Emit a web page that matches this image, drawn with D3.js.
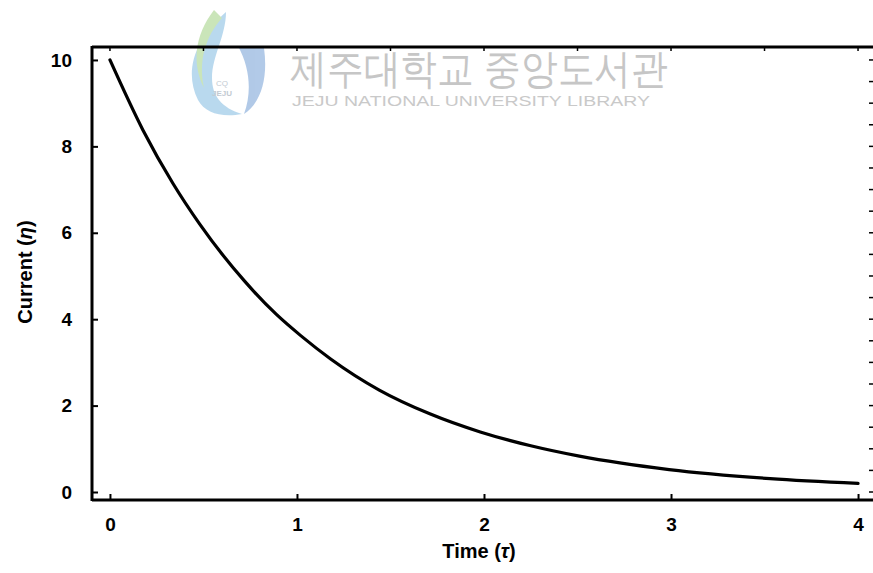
<!DOCTYPE html>
<html>
<head>
<meta charset="utf-8">
<script src="https://cdn.jsdelivr.net/npm/d3@7/dist/d3.min.js"></script>
<style>
  html, body { margin: 0; padding: 0; background: #fff; }
  svg { display: block; }
  text { font-family: "Liberation Sans", Arial, sans-serif; }
</style>
</head>
<body>
<svg id="chart" width="873" height="573"></svg>
<script>
// Current decay measured against time
const timeValues = [0, 0.176, 0.337, 0.48, 0.72, 0.89, 1.02, 1.18, 1.44, 1.71, 1.98, 2.25, 2.51, 2.99, 3.53, 4.0];
const currentValues = [10.0, 8.38, 7.14, 6.2, 4.88, 4.11, 3.62, 3.08, 2.36, 1.81, 1.39, 1.07, 0.83, 0.52, 0.31, 0.2];
const xTicks = [0, 1, 2, 3, 4];
const yTicks = [0, 2, 4, 6, 8, 10];
const xTitle = ["Time (", "τ", ")"];
const yTitle = ["Current (", "η", ")"];
const markKo = "제주대학교 중앙도서관";
const markEn = "JEJU NATIONAL UNIVERSITY  LIBRARY";

const svg = d3.select("#chart");
const x = d3.scaleLinear().domain([-0.096, 4.08]).range([92, 873]);
const y = d3.scaleLinear().domain([-0.185, 10.3]).range([500, 47]);

// library mark in the background
const mark = svg.append("g").attr("opacity", 0.6);
mark.append("path")
  .attr("d", "M226,12 C194,40 184,72 198,100 C205,113 222,118 242,114 C222,108 212,96 212,78 C212,56 226,36 226,12 Z")
  .attr("fill", "#8cc0e4");
mark.append("path")
  .attr("d", "M214,10 C194,36 192,64 204,88 C198,60 206,36 222,18 Z")
  .attr("fill", "#a8d48c");
mark.append("path")
  .attr("d", "M238,46 L264,48 C268,76 262,102 244,114 C252,92 250,68 238,46 Z")
  .attr("fill", "#7ea6d8");
mark.append("text").attr("x", 222).attr("y", 96).attr("text-anchor", "middle")
  .attr("font-size", 8).attr("font-weight", "bold").attr("fill", "#9aa8b5").text("JEJU");
mark.append("text").attr("x", 222).attr("y", 86).attr("text-anchor", "middle")
  .attr("font-size", 8).attr("fill", "#9aa8b5").text("CQ");

svg.append("text").attr("x", 290).attr("y", 83)
  .attr("font-family", "'Noto Sans CJK KR', sans-serif")
  .attr("font-size", 41).attr("fill", "#c6c6c6")
  .attr("textLength", 378).attr("lengthAdjust", "spacingAndGlyphs")
  .text(markKo);
svg.append("text").attr("x", 292).attr("y", 106)
  .attr("font-size", 15).attr("fill", "#c9c9c9")
  .attr("textLength", 358).attr("lengthAdjust", "spacingAndGlyphs")
  .text(markEn);

// frame lines
const frame = svg.append("g").attr("stroke", "#000").attr("stroke-width", 3).attr("fill", "none");
frame.append("line").attr("x1", x.range()[0]).attr("x2", x.range()[1]).attr("y1", y.range()[1]).attr("y2", y.range()[1]);
frame.append("line").attr("x1", x.range()[0]).attr("x2", x.range()[1]).attr("y1", y.range()[0]).attr("y2", y.range()[0]);
frame.append("line").attr("x1", x.range()[0]).attr("x2", x.range()[0]).attr("y1", y.range()[1] - 1).attr("y2", y.range()[0] + 1);

// bottom axis with inward ticks
const xAxis = svg.append("g").attr("transform", `translate(0,${y.range()[0]})`)
  .call(d3.axisBottom(x).tickValues(xTicks).tickSizeInner(-6).tickSizeOuter(0).tickPadding(18).tickFormat(d3.format("d")));
xAxis.select(".domain").remove();
xAxis.selectAll(".tick line").attr("stroke-width", 2);
xAxis.selectAll("text").attr("font-size", 19).attr("font-weight", "bold").attr("fill", "#000");

// left axis with inward ticks
const yAxis = svg.append("g").attr("transform", `translate(${x.range()[0]},0)`)
  .call(d3.axisLeft(y).tickValues(yTicks).tickSizeInner(-6).tickSizeOuter(0).tickPadding(20).tickFormat(d3.format("d")));
yAxis.select(".domain").remove();
yAxis.selectAll(".tick line").attr("stroke-width", 2);
yAxis.selectAll("text").attr("font-size", 19).attr("font-weight", "bold").attr("fill", "#000");

// small marks along the top and right edges
const halfSteps = d3.range(0, 4.01, 0.5);
svg.append("g").selectAll("line").data(halfSteps).join("line")
  .attr("x1", d => x(d)).attr("x2", d => x(d))
  .attr("y1", y.range()[1]).attr("y2", y.range()[1] + 4)
  .attr("stroke", "#000").attr("stroke-width", 1.5);
const rightSteps = d3.range(0, 10.01, 0.5);
svg.append("g").selectAll("line").data(rightSteps).join("line")
  .attr("x1", 869).attr("x2", 873)
  .attr("y1", d => y(d)).attr("y2", d => y(d))
  .attr("stroke", "#000").attr("stroke-width", 1.5);

// axis titles, Greek symbol set in italics
function title(sel, parts) {
  sel.selectAll("tspan").data(parts).join("tspan")
    .attr("font-style", (d, i) => i === 1 ? "italic" : null)
    .text(d => d);
}
svg.append("text").attr("x", 479).attr("y", 558).attr("text-anchor", "middle")
  .attr("font-size", 20).attr("font-weight", "bold").call(title, xTitle);
svg.append("text").attr("transform", "translate(32,272) rotate(-90)")
  .attr("text-anchor", "middle").attr("font-size", 20).attr("font-weight", "bold").call(title, yTitle);

// decay curve
const points = timeValues.map((t, i) => [t, currentValues[i]]);
svg.append("path").datum(points)
  .attr("fill", "none").attr("stroke", "#000").attr("stroke-width", 3.2)
  .attr("stroke-linecap", "round")
  .attr("d", d3.line().x(d => x(d[0])).y(d => y(d[1])).curve(d3.curveMonotoneX));
</script>
</body>
</html>
